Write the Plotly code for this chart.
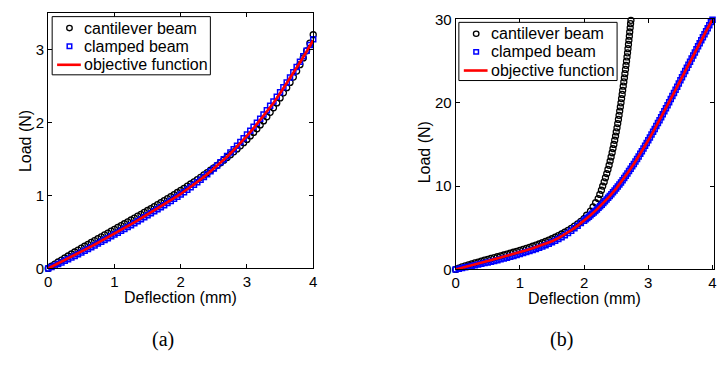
import plotly.graph_objects as go

# ---------------- data: panel (a) ----------------
defl_a_pts = [0, 0.05, 0.1, 0.15, 0.2, 0.25, 0.3, 0.35, 0.4, 0.45, 0.5, 0.55, 0.6, 0.65,
              0.7, 0.75, 0.8, 0.85, 0.9, 0.95, 1.0, 1.05, 1.1, 1.15, 1.2, 1.25, 1.3, 1.35,
              1.4, 1.45, 1.5, 1.55, 1.6, 1.65, 1.7, 1.75, 1.8, 1.85, 1.9, 1.95, 2.0,
              2.05, 2.1, 2.15, 2.2, 2.25, 2.3, 2.35, 2.4, 2.45, 2.5, 2.55, 2.6, 2.65,
              2.7, 2.75, 2.8, 2.85, 2.9, 2.95, 3.0, 3.05, 3.1, 3.15, 3.2, 3.25, 3.3, 3.35,
              3.4, 3.45, 3.5, 3.55, 3.6, 3.65, 3.7, 3.75, 3.8, 3.85, 3.9, 3.95, 4.0]
cantilever_a = [0, 0.03, 0.06, 0.088, 0.115, 0.143, 0.17, 0.198, 0.225, 0.252,
                0.278, 0.304, 0.33, 0.356, 0.382, 0.408, 0.433, 0.459, 0.484, 0.51,
                0.535, 0.561, 0.586, 0.612, 0.637, 0.663, 0.689, 0.715, 0.741, 0.767,
                0.793, 0.82, 0.846, 0.873, 0.9, 0.928, 0.955, 0.983, 1.011, 1.04,
                1.068, 1.097, 1.126, 1.156, 1.186, 1.217, 1.248, 1.28, 1.312, 1.345,
                1.378, 1.412, 1.447, 1.483, 1.52, 1.558, 1.597, 1.637, 1.679, 1.722,
                1.767, 1.814, 1.862, 1.913, 1.965, 2.02, 2.077, 2.137, 2.2, 2.266,
                2.335, 2.404, 2.475, 2.547, 2.62, 2.703, 2.79, 2.883, 2.98, 3.085, 3.2]
clamped_a = [0, 0.018, 0.038, 0.06, 0.082, 0.104, 0.126, 0.149, 0.171, 0.195,
             0.219, 0.243, 0.267, 0.291, 0.315, 0.34, 0.365, 0.39, 0.415, 0.44,
             0.465, 0.49, 0.516, 0.541, 0.567, 0.593, 0.619, 0.646, 0.673, 0.7,
             0.727, 0.754, 0.782, 0.81, 0.838, 0.866, 0.895, 0.924, 0.953, 0.982,
             1.012, 1.044, 1.077, 1.111, 1.145, 1.18, 1.216, 1.253, 1.291, 1.33,
             1.37, 1.411, 1.453, 1.496, 1.54, 1.586, 1.633, 1.681, 1.73, 1.781,
             1.833, 1.886, 1.94, 1.995, 2.051, 2.108, 2.166, 2.226, 2.287, 2.35,
             2.414, 2.48, 2.547, 2.616, 2.686, 2.758, 2.83, 2.905, 2.98, 3.058, 3.138]
defl_a = [0, 0.1, 0.2, 0.3, 0.4, 0.5, 0.6, 0.7, 0.8, 0.9, 1.0, 1.1, 1.2, 1.3, 1.4, 1.5,
          1.6, 1.7, 1.8, 1.9, 2.0, 2.1, 2.2, 2.3, 2.4, 2.5, 2.6, 2.7, 2.8, 2.9, 3.0,
          3.1, 3.2, 3.3, 3.4, 3.5, 3.6, 3.7, 3.8, 3.9, 4.0]
objective_a = [0, 0.045, 0.09, 0.135, 0.18, 0.23, 0.278, 0.327, 0.376, 0.426, 0.476,
               0.527, 0.578, 0.63, 0.684, 0.738, 0.793, 0.849, 0.905, 0.962, 1.02,
               1.083, 1.149, 1.218, 1.29, 1.366, 1.446, 1.53, 1.62, 1.715, 1.815,
               1.92, 2.03, 2.145, 2.265, 2.40, 2.535, 2.675, 2.82, 2.97, 3.125]

# ---------------- data: panel (b) ----------------
cant_b_x = [0, 0.05, 0.1, 0.15, 0.2, 0.25, 0.3, 0.35, 0.4, 0.45, 0.5, 0.55, 0.6, 0.65,
            0.7, 0.75, 0.8, 0.85, 0.9, 0.95, 1.0, 1.05, 1.1, 1.15, 1.2, 1.25, 1.3, 1.35,
            1.4, 1.45, 1.5, 1.55, 1.6, 1.65, 1.7, 1.75, 1.8, 1.85, 1.9, 1.95, 2.0,
            2.04, 2.10, 2.14, 2.18, 2.22, 2.245, 2.27, 2.29, 2.313, 2.333, 2.353, 2.372,
            2.39, 2.406, 2.421, 2.437, 2.45, 2.464, 2.477, 2.49, 2.501, 2.513, 2.524,
            2.535, 2.545, 2.555, 2.565, 2.575, 2.584, 2.593, 2.601, 2.61, 2.619, 2.628,
            2.636, 2.645, 2.653, 2.661, 2.669, 2.677, 2.684, 2.691, 2.698, 2.705, 2.711,
            2.718, 2.724, 2.73]
cant_b_y = [0, 0.15, 0.29, 0.42, 0.54, 0.66, 0.77, 0.88, 0.99, 1.1, 1.2, 1.31, 1.41, 1.52,
            1.62, 1.73, 1.84, 1.95, 2.06, 2.17, 2.29, 2.41, 2.53, 2.65, 2.78, 2.91, 3.05,
            3.2, 3.35, 3.51, 3.68, 3.86, 4.05, 4.25, 4.46, 4.69, 4.93, 5.19, 5.47, 5.77,
            6.1,
            6.5, 7.0, 7.5, 8.0, 8.5, 9.0, 9.5, 10.0, 10.5, 11.0, 11.5, 12.0, 12.5, 13.0,
            13.5, 14.0, 14.5, 15.0, 15.5, 16.0, 16.5, 17.0, 17.5, 18.0, 18.5, 19.0, 19.5,
            20.0, 20.5, 21.0, 21.5, 22.0, 22.5, 23.0, 23.5, 24.0, 24.5, 25.0, 25.5, 26.0,
            26.5, 27.0, 27.5, 28.0, 28.5, 29.0, 29.5, 29.9]

clamp_b_x = [0, 0.05, 0.1, 0.15, 0.2, 0.25, 0.3, 0.35, 0.4, 0.45, 0.5, 0.55, 0.6, 0.65,
             0.7, 0.75, 0.8, 0.85, 0.9, 0.95, 1.0, 1.05, 1.1, 1.15, 1.2, 1.25, 1.3, 1.35,
             1.4, 1.45, 1.5, 1.55, 1.6, 1.65, 1.7, 1.75, 1.8, 1.85, 1.9, 1.95, 2.0,
             2.025, 2.05, 2.075, 2.1, 2.125, 2.15, 2.175, 2.2, 2.225, 2.25, 2.275, 2.3,
             2.325, 2.35, 2.375, 2.4, 2.425, 2.45, 2.475, 2.5, 2.525, 2.55, 2.575, 2.6,
             2.625, 2.65, 2.675, 2.7, 2.725, 2.75, 2.775, 2.8, 2.825, 2.85, 2.875, 2.9,
             2.925, 2.95, 2.975, 3.0, 3.025, 3.05, 3.075, 3.1, 3.125, 3.15, 3.175, 3.2,
             3.225, 3.25, 3.275, 3.3, 3.325, 3.35, 3.375, 3.4, 3.425, 3.45, 3.475, 3.5,
             3.525, 3.55, 3.575, 3.6, 3.625, 3.65, 3.675, 3.7, 3.725, 3.75, 3.775, 3.8,
             3.825, 3.85, 3.875, 3.9, 3.925, 3.95, 3.975, 4.0]
clamp_b_y = [0, 0.08, 0.16, 0.25, 0.33, 0.42, 0.5, 0.59, 0.67, 0.76, 0.84, 0.93, 1.02,
             1.11, 1.21, 1.31, 1.41, 1.51, 1.62, 1.73, 1.85, 1.96, 2.08, 2.2, 2.33, 2.46,
             2.6, 2.75, 2.9, 3.07, 3.25, 3.44, 3.64, 3.87, 4.1, 4.37, 4.65, 4.95, 5.25,
             5.56, 5.85,
             6.01, 6.17, 6.33, 6.5, 6.67, 6.84, 7.02, 7.2, 7.39, 7.58, 7.77, 7.97,
             8.17, 8.38, 8.59, 8.8, 9.02, 9.25, 9.47, 9.7, 9.94, 10.19, 10.44, 10.7,
             10.97, 11.24, 11.52, 11.8, 12.08, 12.37, 12.66, 12.95, 13.25, 13.56, 13.87,
             14.18, 14.51, 14.84, 15.17, 15.5, 15.84, 16.18, 16.52, 16.86, 17.21, 17.56,
             17.91, 18.26, 18.62, 18.98, 19.34, 19.7, 20.07, 20.44, 20.81, 21.18, 21.56,
             21.94, 22.32, 22.7, 23.08, 23.45, 23.83, 24.2, 24.57, 24.94, 25.31, 25.68,
             26.05, 26.42, 26.78, 27.15, 27.51, 27.87, 28.24, 28.6, 28.96, 29.32, 29.69,
             29.98]

defl_b = [0, 0.1, 0.2, 0.3, 0.4, 0.5, 0.6, 0.7, 0.8, 0.9, 1.0, 1.1, 1.2, 1.3, 1.4, 1.5,
          1.6, 1.7, 1.8, 1.9, 2.0, 2.1, 2.2, 2.3, 2.4, 2.5, 2.6, 2.7, 2.8, 2.9, 3.0,
          3.1, 3.2, 3.3, 3.4, 3.5, 3.6, 3.7, 3.8, 3.9, 4.0]
objective_b = [0, 0.22, 0.43, 0.63, 0.82, 1.02, 1.22, 1.42, 1.63, 1.84, 2.06, 2.29, 2.53,
               2.79, 3.07, 3.38, 3.75, 4.2, 4.7, 5.25, 5.85, 6.5, 7.2, 7.97, 8.8, 9.7,
               10.7, 11.8, 12.95, 14.18, 15.5, 16.86, 18.26, 19.7, 21.18, 22.7, 24.2,
               25.68, 27.15, 28.6, 30.0]

names = ["cantilever beam", "clamped beam", "objective function"]
x_ticks = [0, 1, 2, 3, 4]
y_ticks_a = [0, 1, 2, 3]
y_ticks_b = [0, 10, 20, 30]

W, H = 718, 368
FONT = "Liberation Sans, Arial, sans-serif"
SERIF = "Liberation Serif, Times New Roman, serif"
BLACK, BLUE, RED = "#000000", "#0000ff", "#ff0000"

circ = dict(symbol="circle-open", size=6, color=BLACK, line=dict(width=1.3, color=BLACK))
sq = dict(symbol="square-open", size=5, color=BLUE, line=dict(width=1.5, color=BLUE))
red = dict(color=RED, width=2.6)

fig = go.Figure()
# panel (a)
fig.add_trace(go.Scatter(x=defl_a_pts, y=cantilever_a, mode="markers", marker=circ,
                         name=names[0], xaxis="x", yaxis="y", cliponaxis=False))
fig.add_trace(go.Scatter(x=defl_a_pts, y=clamped_a, mode="markers", marker=sq,
                         name=names[1], xaxis="x", yaxis="y", cliponaxis=False))
fig.add_trace(go.Scatter(x=defl_a, y=objective_a, mode="lines", line=red, name=names[2],
                         xaxis="x", yaxis="y", cliponaxis=False))
# panel (b)
fig.add_trace(go.Scatter(x=cant_b_x, y=cant_b_y, mode="markers", marker=circ, name=names[0],
                         xaxis="x2", yaxis="y2", cliponaxis=False))
fig.add_trace(go.Scatter(x=clamp_b_x, y=clamp_b_y, mode="markers", marker=sq, name=names[1],
                         xaxis="x2", yaxis="y2", cliponaxis=False))
fig.add_trace(go.Scatter(x=defl_b, y=objective_b, mode="lines", line=red, name=names[2],
                         xaxis="x2", yaxis="y2", cliponaxis=False))

ax = dict(showline=True, linecolor="black", linewidth=1, mirror="ticks", ticks="inside",
          ticklen=4, tickwidth=1, tickcolor="black", showgrid=False, zeroline=False,
          tickfont=dict(family=FONT, size=15, color="black"), fixedrange=True)


def px_x(p):
    return p / W


def px_y(p):
    return (H - p) / H


fig.update_layout(
    width=W, height=H, margin=dict(l=0, r=0, t=0, b=0),
    paper_bgcolor="white", plot_bgcolor="white",
    font=dict(family=FONT, size=15, color="black"),
    showlegend=False,
    xaxis=dict(ax, domain=[px_x(44.7), px_x(312.7)], range=[0, 4], tickvals=x_ticks,
               anchor="y"),
    yaxis=dict(ax, domain=[px_y(272), px_y(4)], range=[0, 3.5], tickvals=y_ticks_a,
               anchor="x"),
    xaxis2=dict(ax, domain=[px_x(456.7), 1.0], range=[0, 4.023], tickvals=x_ticks,
                anchor="y2"),
    yaxis2=dict(ax, domain=[px_y(273), px_y(11)], range=[0, 30], tickvals=y_ticks_b,
                anchor="x2"),
)

# ---- legend boxes (drawn as styled boxes with real text) ----
shapes = []
annotations = []
legend_boxes = [(48.7, 8.0), (460.0, 14.0)]   # top-left corner in pixels
BOX_W, BOX_H = 160, 61
ROWS = [12.0, 31.0, 50.5]
for bx, by in legend_boxes:
    shapes.append(dict(type="rect", xref="paper", yref="paper",
                       x0=px_x(bx), x1=px_x(bx + BOX_W), y0=px_y(by + BOX_H), y1=px_y(by),
                       line=dict(color="black", width=1), fillcolor="white", layer="above"))
    cx = bx + 17.5
    r0 = by + ROWS[0]
    shapes.append(dict(type="circle", xref="paper", yref="paper",
                       x0=px_x(cx - 2.8), x1=px_x(cx + 2.8), y0=px_y(r0 + 2.8), y1=px_y(r0 - 2.8),
                       line=dict(color=BLACK, width=1.3), fillcolor="rgba(0,0,0,0)", layer="above"))
    r1 = by + ROWS[1]
    shapes.append(dict(type="rect", xref="paper", yref="paper",
                       x0=px_x(cx - 2.3), x1=px_x(cx + 2.3), y0=px_y(r1 + 2.3), y1=px_y(r1 - 2.3),
                       line=dict(color=BLUE, width=1.5), fillcolor="rgba(0,0,0,0)", layer="above"))
    r2 = by + ROWS[2]
    shapes.append(dict(type="line", xref="paper", yref="paper",
                       x0=px_x(bx + 5), x1=px_x(bx + 29), y0=px_y(r2), y1=px_y(r2),
                       line=dict(color=RED, width=2.6), layer="above"))
    for name, rr in zip(names, ROWS):
        annotations.append(dict(text=name, x=px_x(bx + 30.5), y=px_y(by + rr), xref="paper",
                                yref="paper", xanchor="left", yanchor="middle",
                                showarrow=False, font=dict(family=FONT, size=16, color="black")))

labels = [
    ("Deflection (mm)", 178.7, 302.5, 0, FONT, 16),
    ("Deflection (mm)", 587.0, 303.0, 0, FONT, 16),
    ("Load (N)", 21.7, 138, -90, FONT, 16),
    ("Load (N)", 425.0, 150, -90, FONT, 16),
    ("(a)", 160.7, 346.7, 0, SERIF, 20),
    ("(b)", 564.0, 346.7, 0, SERIF, 20),
]
for text, x, y, ang, fam, size in labels:
    annotations.append(dict(text=text, x=px_x(x), y=px_y(y), xref="paper", yref="paper",
                            xanchor="center", yanchor="middle", showarrow=False,
                            textangle=ang, font=dict(family=fam, size=size, color="black")))

fig.update_layout(shapes=shapes, annotations=annotations)

fig.write_html("out.html")
